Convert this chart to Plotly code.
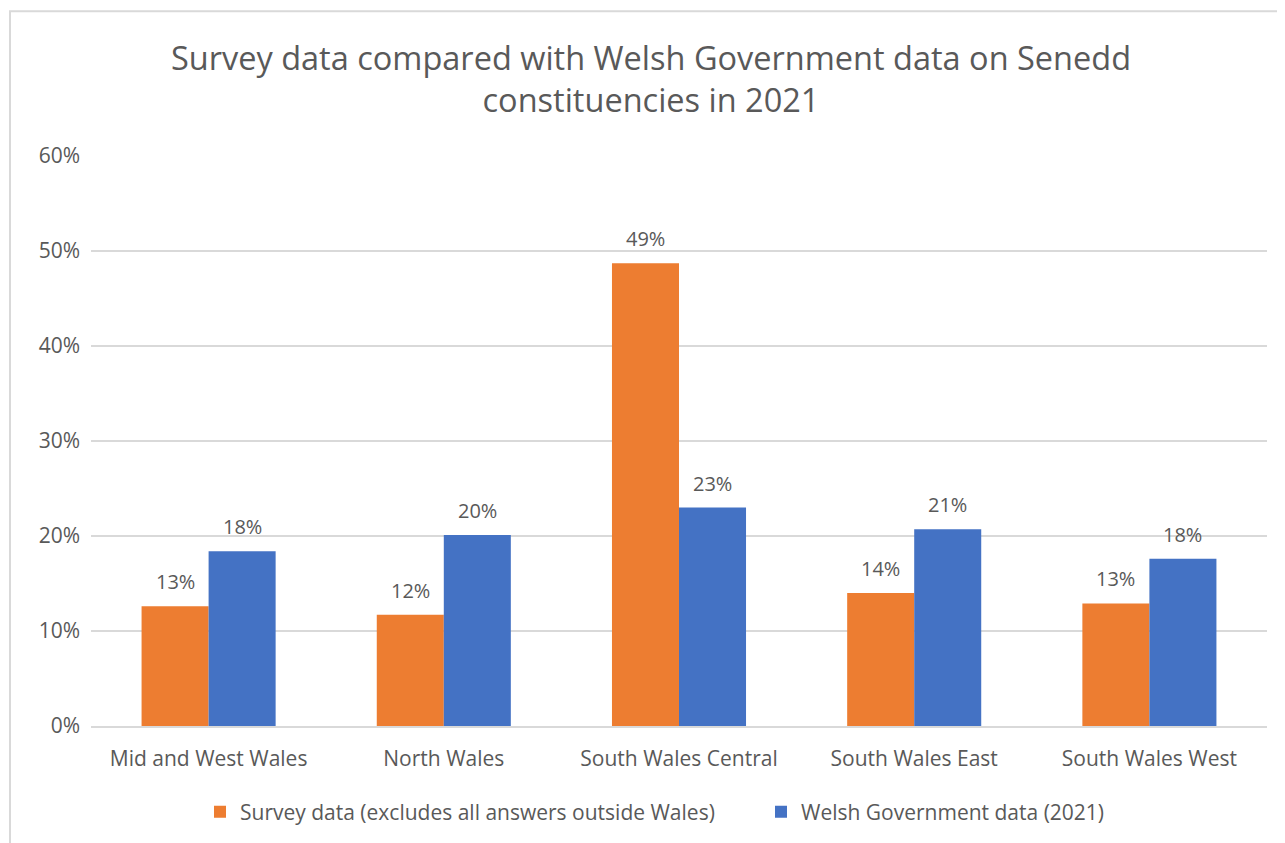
import plotly.graph_objects as go

categories = ["Mid and West Wales", "North Wales", "South Wales Central", "South Wales East", "South Wales West"]
survey = [0.126, 0.117, 0.487, 0.140, 0.129]
welsh_gov = [0.184, 0.201, 0.230, 0.207, 0.176]
series_names = ["Survey data (excludes all answers outside Wales)", "Welsh Government data (2021)"]
colors = ["#ED7D31", "#4472C4"]

FONT = "Open Sans, Noto Sans, sans-serif"
TXT = "#595959"

OFF = 8  # page body margin
W, H = 1285 - OFF, 843 - OFF
PX0, PX1, PY0, PY1 = 91, 1267, 156, 727
L, R, T, B = PX0 - OFF, W - (PX1 - OFF), PY0 - OFF, H - (PY1 - OFF)
pw, ph = PX1 - PX0, PY1 - PY0
BAR_PX = 67

def px_x(x):
    return (x - PX0) / pw

def px_y(y):
    return (PY1 - y) / ph

legend_ids = ["legend", "legend2"]
legend_left = [200, 761]

fig = go.Figure()
annotations = []
for i, (name, vals, col) in enumerate(zip(series_names, [survey, welsh_gov], colors)):
    fig.add_trace(go.Bar(
        x=categories, y=vals, name=name, marker=dict(color=col, line=dict(width=0)),
        legend=legend_ids[i],
    ))
    shift = (-0.5 + i) * BAR_PX
    for c, v in zip(categories, vals):
        annotations.append(dict(
            x=c, y=v, xref="x", yref="y", text=f"{v:.0%}", showarrow=False,
            xshift=shift, yshift=9, yanchor="bottom", xanchor="center",
            font=dict(family=FONT, size=20, color=TXT),
        ))

legend_common = dict(orientation="h", yanchor="middle", y=px_y(812), xanchor="left",
                     font=dict(family=FONT, size=21, color=TXT), bgcolor="rgba(0,0,0,0)")

fig.update_layout(
    width=W, height=H,
    margin=dict(l=L, r=R, t=T, b=B),
    paper_bgcolor="white", plot_bgcolor="white",
    barmode="group", bargap=0.43, bargroupgap=0,
    font=dict(family=FONT, color=TXT, size=21),
    title=dict(
        text="Survey data compared with Welsh Government data on Senedd<br>constituencies in 2021",
        x=(651 - OFF) / W, xanchor="center", y=1 - 62 / H, yanchor="top",
        font=dict(family=FONT, size=32.5, color=TXT),
    ),
    showlegend=True,
    legend=dict(x=px_x(legend_left[0]), **legend_common),
    legend2=dict(x=px_x(legend_left[1]), **legend_common),
    xaxis=dict(showgrid=False, showline=True, linecolor="#D9D9D9", linewidth=2,
               ticks="", ticklabelstandoff=13,
               tickfont=dict(family=FONT, size=21, color=TXT)),
    yaxis=dict(range=[0, 0.6], dtick=0.1, tickformat=".0%", showgrid=True,
               gridcolor="#D9D9D9", gridwidth=1.5, zeroline=False, showline=False,
               ticks="", ticklabelstandoff=10,
               tickfont=dict(family=FONT, size=21, color=TXT)),
    annotations=annotations,
    shapes=[dict(type="rect", xref="paper", yref="paper",
                 x0=px_x(10), x1=px_x(1300), y0=px_y(860), y1=px_y(11),
                 line=dict(color="#D9D9D9", width=2), layer="below")],
)

fig.write_html("out.html")
